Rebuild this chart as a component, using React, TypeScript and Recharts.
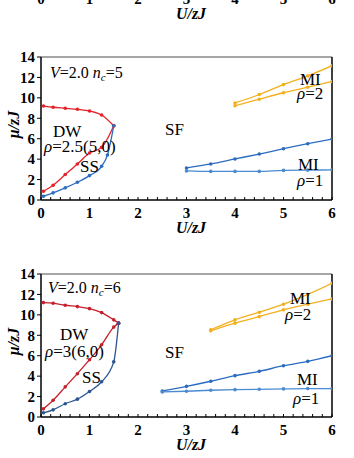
import { LineChart, Line, XAxis, YAxis, ReferenceLine } from "recharts";

const FONT = "'Liberation Serif', 'Times New Roman', serif";

// nc = 5 panel
const uLeft5 = [0.05, 0.25, 0.5, 0.75, 1.0, 1.25, 1.5];
const dwTop5 = [9.2, 9.08, 8.98, 8.88, 8.72, 8.32, 7.27];
const dwBottom5 = [0.86, 1.45, 2.49, 3.53, 4.6, 5.15, 7.27];
const uSS5 = [0.05, 0.25, 0.5, 0.75, 1.0, 1.25, 1.37, 1.5];
const ssBottom5 = [0.37, 0.7, 1.19, 1.74, 2.39, 3.3, 4.4, 7.27];
const uMi1_5 = [3, 3.5, 4, 4.5, 5, 5.5, 6];
const mi1Top5 = [3.14, 3.53, 4.02, 4.5, 5.02, 5.51, 5.97];
const mi1Bottom5 = [2.85, 2.8, 2.8, 2.8, 2.9, 2.92, 2.95];
const uMi2_5 = [4, 4.5, 5, 5.5, 6];
const mi2Top5 = [9.5, 10.33, 11.3, 12.15, 13.15];
const mi2Bottom5 = [9.22, 9.87, 10.5, 11.04, 11.6];

// nc = 6 panel
const uLeft6 = [0.05, 0.25, 0.5, 0.75, 1.0, 1.25, 1.5, 1.6];
const dwTop6 = [11.2, 11.14, 10.94, 10.81, 10.61, 10.22, 9.51, 9.19];
const dwBottom6 = [0.8, 1.64, 2.95, 4.24, 5.61, 7.07, 8.8, 9.19];
const ssBottom6 = [0.41, 0.7, 1.3, 1.75, 2.5, 3.45, 5.4, 9.19];
const uMi1_6 = [2.5, 3, 3.5, 4, 4.5, 5, 5.5, 6];
const mi1Top6 = [2.55, 3.0, 3.5, 4.05, 4.47, 5.02, 5.45, 6.0];
const mi1Bottom6 = [2.45, 2.52, 2.62, 2.68, 2.71, 2.75, 2.78, 2.78];
const uMi2_6 = [3.5, 4, 4.5, 5, 5.5, 6];
const mi2Top6 = [8.54, 9.51, 10.26, 11.04, 12.0, 13.09];
const mi2Bottom6 = [8.44, 9.19, 9.83, 10.49, 11.04, 11.56];

const xTicks = Array.from({ length: 31 }, (_, i) => Math.round(i * 2) / 10);
const yTicks = [0, 2, 4, 6, 8, 10, 12, 14];

const zip = (us: number[], mus: number[]) => us.map((u, i) => ({ u, mu: mus[i] }));

type Series = { pts: { u: number; mu: number }[]; color: string };

const PLOT_H = 143;
const M_TOP = 17;
const X_H = 39;
const CH_H = M_TOP + PLOT_H + X_H;

const XTick = (props: any) => {
  const { x, y, payload } = props;
  const v = payload.value;
  const major = Math.abs(v - Math.round(v)) < 1e-6;
  return (
    <g>
      <line x1={x} x2={x} y1={y} y2={y - 3} stroke="#000" strokeWidth={1} />
      {major && (
        <text x={x} y={y + 18} textAnchor="middle" fontSize={15} fontWeight="bold" fontFamily={FONT} fill="#000">
          {Math.round(v)}
        </text>
      )}
    </g>
  );
};

function Panel({ top, series }: { top: number; series: Series[] }) {
  return (
    <div style={{ position: "absolute", left: 0, top, width: 354, height: CH_H }}>
      <LineChart width={354} height={CH_H} margin={{ top: M_TOP, right: 22, bottom: 0, left: 0 }}>
        <XAxis
          type="number"
          dataKey="u"
          domain={[0, 6]}
          allowDataOverflow
          ticks={xTicks}
          interval={0}
          tickSize={0}
          tickMargin={0}
          tickLine={false}
          tick={<XTick />}
          height={X_H}
          axisLine={{ stroke: "#000", strokeWidth: 1.5 }}
          label={{
            content: () => (
              <text
                x={191}
                y={M_TOP + PLOT_H + 33}
                textAnchor="middle"
                fontSize={16}
                fontStyle="italic"
                fontWeight="bold"
                fontFamily={FONT}
                fill="#000"
              >
                U/zJ
              </text>
            ),
          }}
        />
        <YAxis
          type="number"
          domain={[0, 14]}
          allowDataOverflow
          ticks={yTicks}
          interval={0}
          width={41}
          tickSize={4}
          tickMargin={2}
          tickLine={{ stroke: "#000" }}
          axisLine={{ stroke: "#000", strokeWidth: 1.5 }}
          tick={{ fontSize: 15, fill: "#000", fontFamily: FONT, fontWeight: "bold" }}
          label={{
            content: () => (
              <text
                transform={`translate(19, ${M_TOP + PLOT_H / 2 - 4}) rotate(-90)`}
                textAnchor="middle"
                fontSize={16}
                fontStyle="italic"
                fontWeight="bold"
                fontFamily={FONT}
                fill="#000"
              >
                μ/zJ
              </text>
            ),
          }}
        />
        <ReferenceLine y={14} stroke="#888" strokeWidth={1.5} />
        <ReferenceLine x={6} stroke="#000" strokeWidth={1.5} />
        {series.map((s, i) => (
          <Line
            key={i}
            data={s.pts}
            dataKey="mu"
            type="monotone"
            stroke={s.color}
            strokeWidth={1.3}
            dot={{ r: 1.8, fill: s.color, stroke: s.color, strokeWidth: 0 }}
            isAnimationActive={false}
          />
        ))}
      </LineChart>
    </div>
  );
}

const RED1 = "#e52229";
const RED2 = "#c61f2c";
const BLUE = "#2b6cc0";
const LIGHTBLUE = "#4a8bd2";
const NAVY = "#2c5590";
const GOLD = "#f2b01e";

const panel5: Series[] = [
  { pts: zip(uLeft5, dwTop5), color: RED1 },
  { pts: zip(uLeft5, dwBottom5), color: RED1 },
  { pts: zip(uSS5, ssBottom5), color: BLUE },
  { pts: zip(uMi1_5, mi1Top5), color: BLUE },
  { pts: zip(uMi1_5, mi1Bottom5), color: LIGHTBLUE },
  { pts: zip(uMi2_5, mi2Top5), color: GOLD },
  { pts: zip(uMi2_5, mi2Bottom5), color: GOLD },
];

const panel6: Series[] = [
  { pts: zip(uLeft6, dwTop6), color: RED2 },
  { pts: zip(uLeft6, dwBottom6), color: RED2 },
  { pts: zip(uLeft6, ssBottom6), color: NAVY },
  { pts: zip(uMi1_6, mi1Top6), color: BLUE },
  { pts: zip(uMi1_6, mi1Bottom6), color: LIGHTBLUE },
  { pts: zip(uMi2_6, mi2Top6), color: GOLD },
  { pts: zip(uMi2_6, mi2Bottom6), color: GOLD },
];

const T = ({ x, y, size = 17, children }: any) => (
  <text x={x} y={y} fontSize={size} fontFamily={FONT} fill="#000">
    {children}
  </text>
);
const I = ({ children }: any) => <tspan fontStyle="italic">{children}</tspan>;

export default function App() {
  return (
    <div
      style={{
        position: "absolute",
        left: 0,
        top: 0,
        width: 354,
        height: 458,
        overflow: "hidden",
        background: "#fff",
      }}
    >
      <Panel top={-14 - M_TOP - PLOT_H} series={[]} />
      <Panel top={40} series={panel5} />
      <Panel top={257} series={panel6} />
      <svg width={354} height={458} style={{ position: "absolute", left: 0, top: 0, pointerEvents: "none" }}>
        <T x={50} y={78} size={16}>
          <I>V</I>=2.0 <I>n</I>
          <tspan fontSize={11} dy={3} fontStyle="italic">c</tspan>
          <tspan dy={-3}>=5</tspan>
        </T>
        <T x={53} y={136.5}>DW</T>
        <T x={44} y={152}>
          <I>ρ</I>=2.5(5,0)
        </T>
        <T x={80} y={172}>SS</T>
        <T x={165} y={135}>SF</T>
        <T x={300} y={85}>MI</T>
        <T x={297} y={99}>
          <I>ρ</I>=2
        </T>
        <T x={298} y={170}>MI</T>
        <T x={297} y={186}>
          <I>ρ</I>=1
        </T>

        <T x={48} y={293} size={16}>
          <I>V</I>=2.0 <I>n</I>
          <tspan fontSize={11} dy={3} fontStyle="italic">c</tspan>
          <tspan dy={-3}>=6</tspan>
        </T>
        <T x={60} y={340}>DW</T>
        <T x={45} y={357}>
          <I>ρ</I>=3(6,0)
        </T>
        <T x={82} y={383}>SS</T>
        <T x={165} y={358}>SF</T>
        <T x={290} y={304}>MI</T>
        <T x={285} y={320}>
          <I>ρ</I>=2
        </T>
        <T x={297} y={385}>MI</T>
        <T x={293} y={404}>
          <I>ρ</I>=1
        </T>
      </svg>
    </div>
  );
}
